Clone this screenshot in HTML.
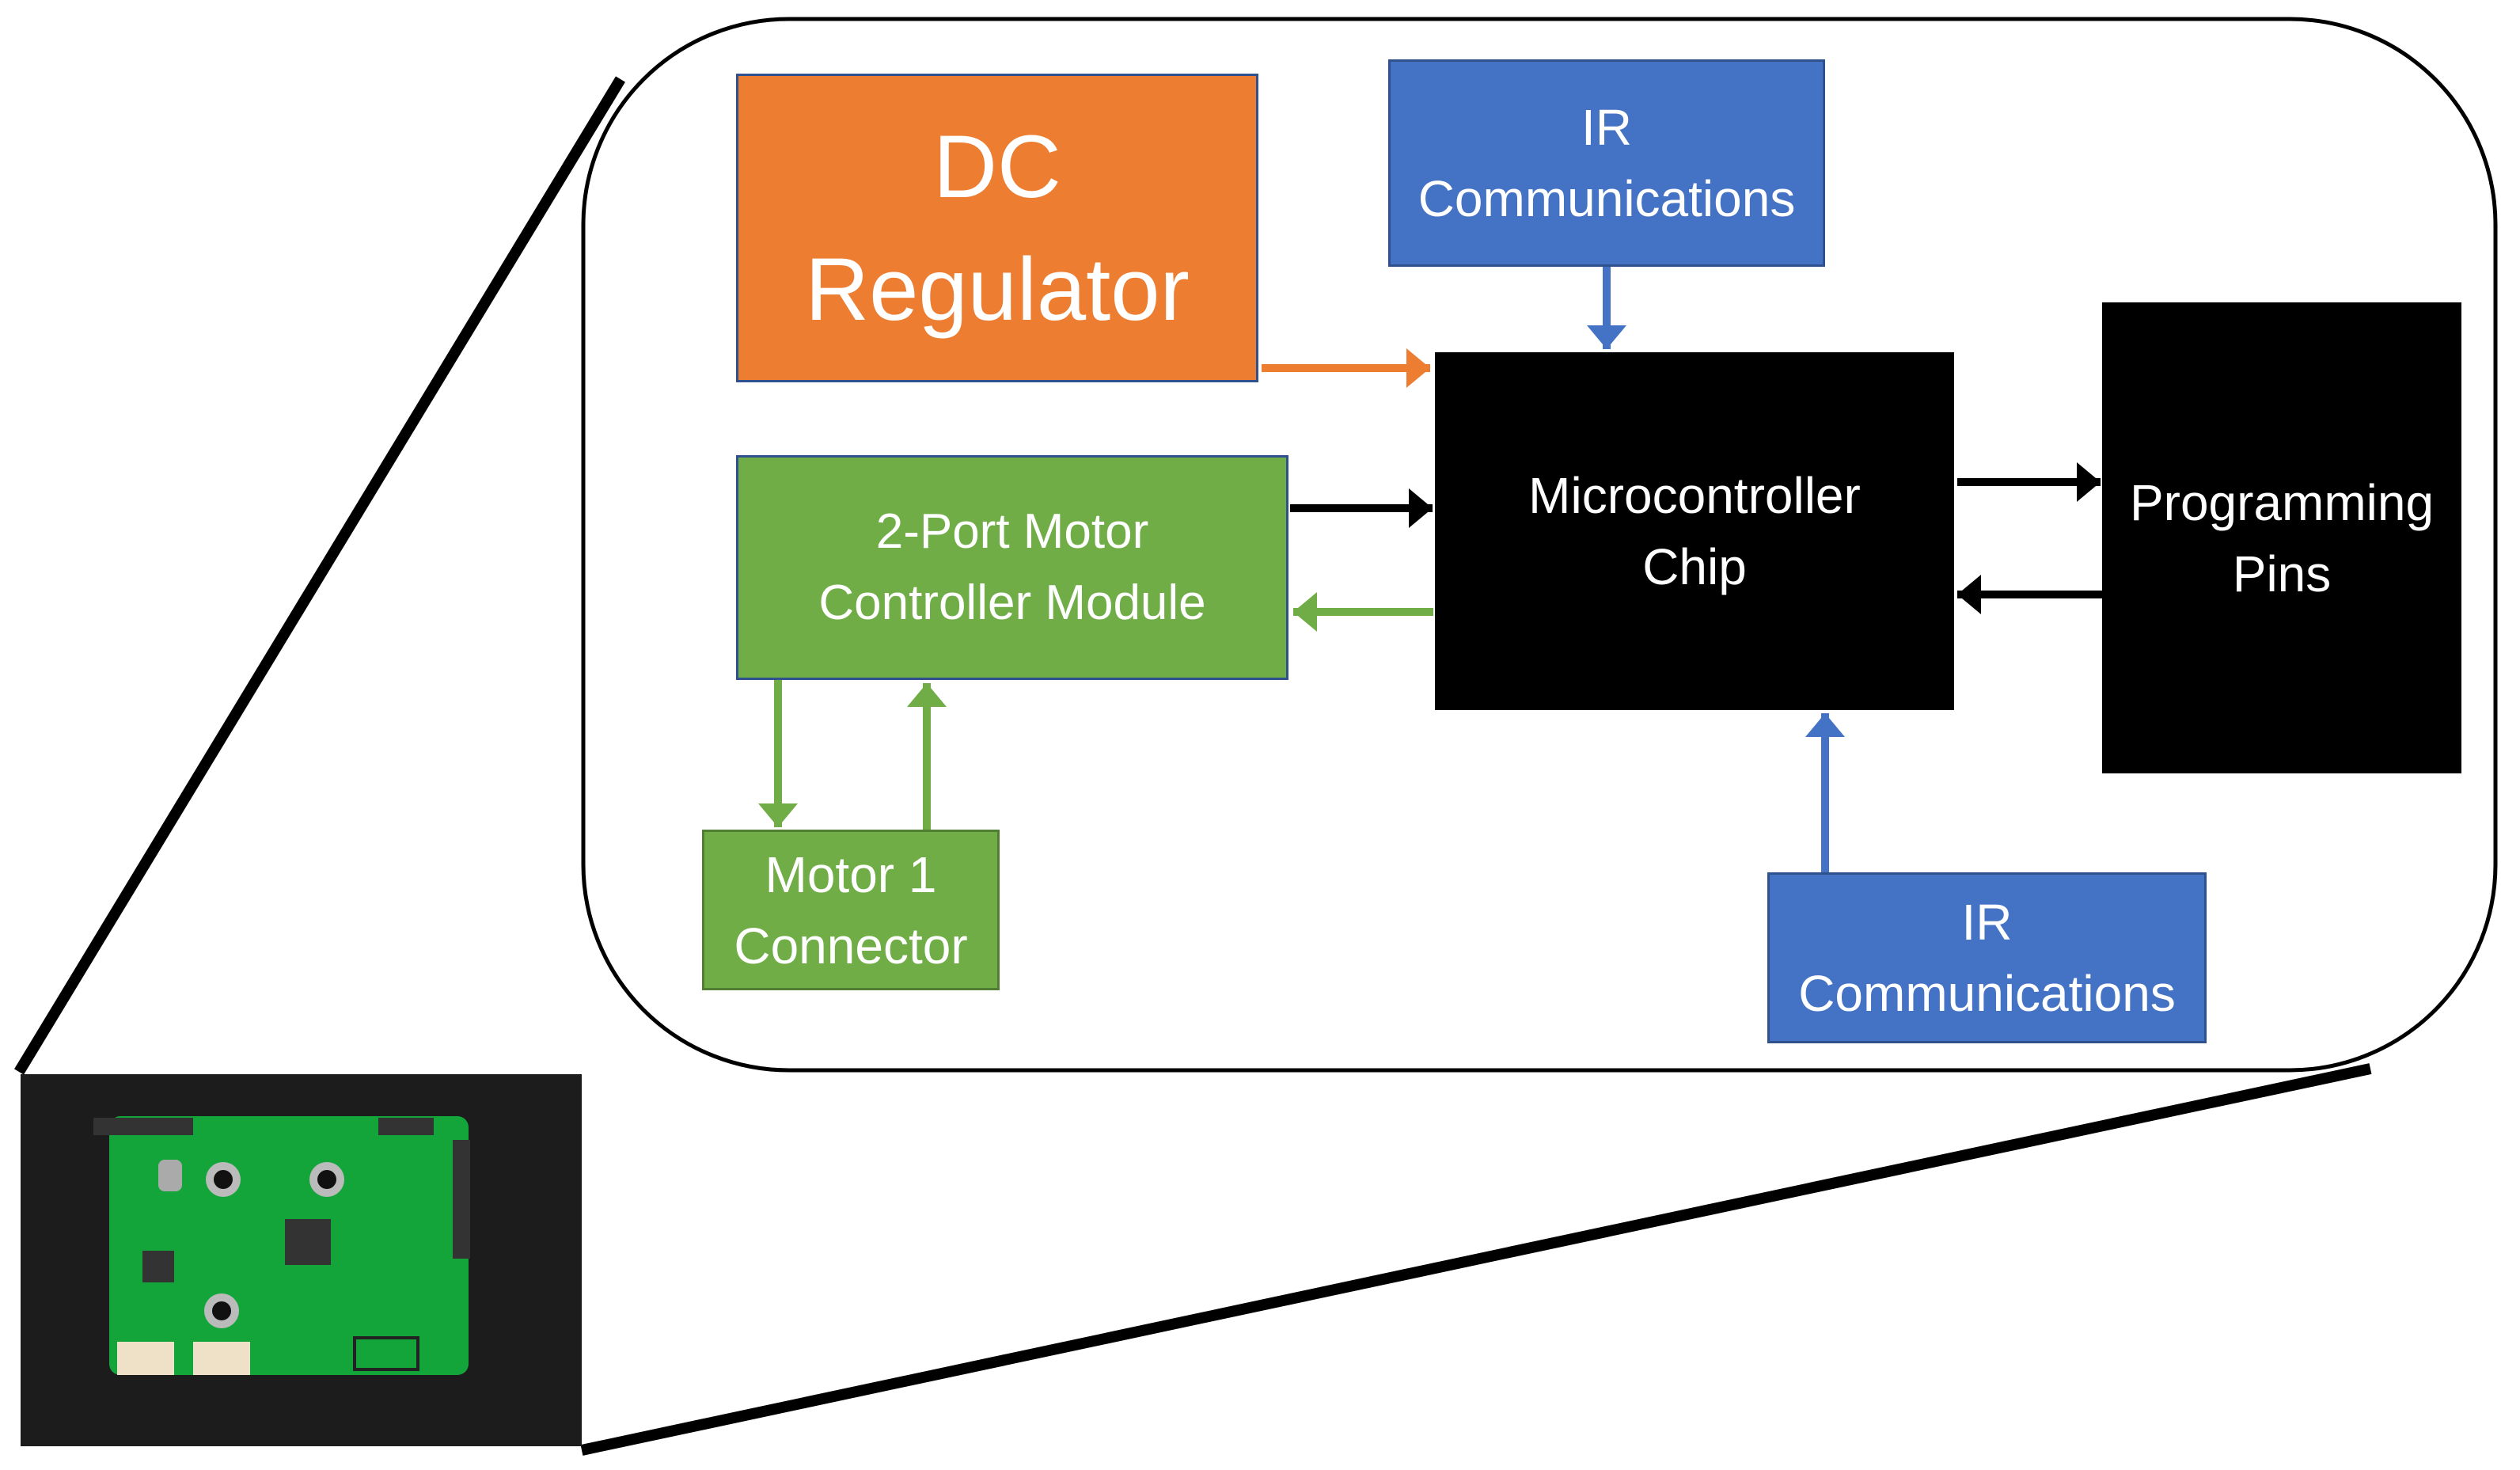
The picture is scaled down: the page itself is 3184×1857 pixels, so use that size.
<!DOCTYPE html>
<html><head><meta charset="utf-8"><style>
html,body{margin:0;padding:0;background:#fff}
body{width:3184px;height:1857px;position:relative;overflow:hidden;font-family:"Liberation Sans",sans-serif}
.b{position:absolute;display:flex;align-items:center;justify-content:center;text-align:center;color:#fff;box-sizing:border-box;line-height:90px;font-size:64px}
</style></head><body>
<svg width="3184" height="1857" style="position:absolute;left:0;top:0">
<defs>
<marker id="ab" markerWidth="4" markerHeight="5" refX="3" refY="2.5" orient="auto" markerUnits="strokeWidth"><path d="M0,0L3,2.5L0,5z" fill="#000"/></marker>
<marker id="ao" markerWidth="4" markerHeight="5" refX="3" refY="2.5" orient="auto" markerUnits="strokeWidth"><path d="M0,0L3,2.5L0,5z" fill="#ED7D31"/></marker>
<marker id="ag" markerWidth="4" markerHeight="5" refX="3" refY="2.5" orient="auto" markerUnits="strokeWidth"><path d="M0,0L3,2.5L0,5z" fill="#70AD47"/></marker>
<marker id="au" markerWidth="4" markerHeight="5" refX="3" refY="2.5" orient="auto" markerUnits="strokeWidth"><path d="M0,0L3,2.5L0,5z" fill="#4472C4"/></marker>
</defs>
<rect x="737" y="24" width="2416" height="1328" rx="260" ry="260" fill="#fff" stroke="#000" stroke-width="5"/>
<line x1="24" y1="1354" x2="784" y2="100" stroke="#000" stroke-width="14"/>
<line x1="735" y1="1832" x2="2995" y2="1350" stroke="#000" stroke-width="14"/>
<!-- photo -->
<rect x="26" y="1357" width="709" height="470" fill="#1c1c1c"/>
<rect x="138" y="1410" width="454" height="327" rx="14" fill="#13a53a"/>
<rect x="118" y="1412" width="126" height="22" fill="#333"/>
<rect x="478" y="1412" width="70" height="22" fill="#333"/>
<rect x="572" y="1440" width="22" height="150" fill="#333"/>
<circle cx="282" cy="1490" r="22" fill="#bbb"/><circle cx="282" cy="1490" r="12" fill="#111"/>
<circle cx="413" cy="1490" r="22" fill="#bbb"/><circle cx="413" cy="1490" r="12" fill="#111"/>
<circle cx="280" cy="1656" r="22" fill="#bbb"/><circle cx="280" cy="1656" r="12" fill="#111"/>
<rect x="360" y="1540" width="58" height="58" fill="#333"/>
<rect x="180" y="1580" width="40" height="40" fill="#333"/>
<rect x="200" y="1465" width="30" height="40" rx="8" fill="#aaa"/>
<rect x="148" y="1695" width="72" height="42" fill="#eee1c8"/>
<rect x="244" y="1695" width="72" height="42" fill="#eee1c8"/>
<rect x="448" y="1690" width="80" height="40" fill="none" stroke="#222" stroke-width="4"/>
<!-- arrows -->
<line x1="1594" y1="465" x2="1807" y2="465" stroke="#ED7D31" stroke-width="10" marker-end="url(#ao)"/>
<line x1="2030" y1="337" x2="2030" y2="441" stroke="#4472C4" stroke-width="10" marker-end="url(#au)"/>
<line x1="1630" y1="642" x2="1810" y2="642" stroke="#000" stroke-width="10" marker-end="url(#ab)"/>
<line x1="1811" y1="773" x2="1634" y2="773" stroke="#70AD47" stroke-width="10" marker-end="url(#ag)"/>
<line x1="983" y1="859" x2="983" y2="1045" stroke="#70AD47" stroke-width="10" marker-end="url(#ag)"/>
<line x1="1171" y1="1048" x2="1171" y2="863" stroke="#70AD47" stroke-width="10" marker-end="url(#ag)"/>
<line x1="2306" y1="1102" x2="2306" y2="901" stroke="#4472C4" stroke-width="10" marker-end="url(#au)"/>
<line x1="2473" y1="609" x2="2654" y2="609" stroke="#000" stroke-width="10" marker-end="url(#ab)"/>
<line x1="2656" y1="751" x2="2473" y2="751" stroke="#000" stroke-width="10" marker-end="url(#ab)"/>
</svg>
<div class="b" style="left:930px;top:93px;width:660px;height:390px;background:#ED7D31;border:3px solid #2F528F;font-size:112px;line-height:155px">DC<br>Regulator</div>
<div class="b" style="left:1754px;top:75px;width:552px;height:262px;background:#4472C4;border:3px solid #2F528F">IR<br>Communications</div>
<div class="b" style="left:1813px;top:445px;width:656px;height:452px;background:#000">Microcontroller<br>Chip</div>
<div class="b" style="left:2656px;top:382px;width:454px;height:595px;background:#000">Programming<br>Pins</div>
<div class="b" style="left:930px;top:575px;width:698px;height:284px;background:#70AD47;border:3px solid #2F528F;font-size:62px">2-Port Motor<br>Controller Module</div>
<div class="b" style="left:887px;top:1048px;width:376px;height:203px;background:#70AD47;border:3px solid #507E32">Motor 1<br>Connector</div>
<div class="b" style="left:2233px;top:1102px;width:555px;height:216px;background:#4472C4;border:3px solid #2F528F">IR<br>Communications</div>
</body></html>
